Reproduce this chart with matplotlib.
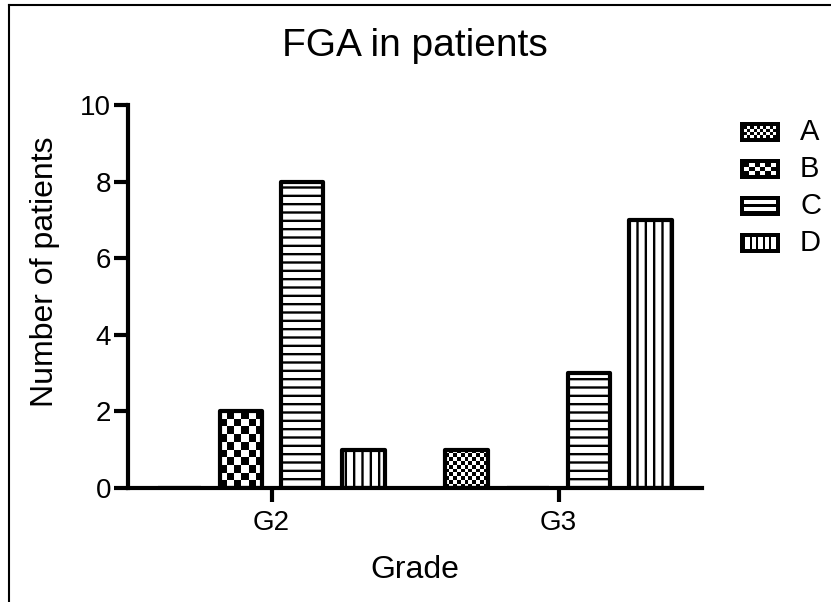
import numpy as np
import matplotlib
matplotlib.use("Agg")
import matplotlib.pyplot as plt
from matplotlib.patches import Rectangle
from matplotlib.lines import Line2D

categories = ["G2", "G3"]
series = ["A", "B", "C", "D"]
values_A = [0, 1]
values_B = [2, 0]
values_C = [8, 3]
values_D = [1, 7]
yticks = [0, 2, 4, 6, 8, 10]

plt.rcParams['font.family'] = ['Liberation Sans', 'DejaVu Sans']
plt.rcParams['hatch.linewidth'] = 1.7

W, H = 831, 602
fig = plt.figure(figsize=(W / 100, H / 100), dpi=100)
ax = fig.add_axes([128 / W, 1 - 488 / H, (702 - 128) / W, (488 - 105) / H])

ax.set_xlim(-0.5, 1.5)
ax.set_ylim(0, 10)

x = np.arange(len(categories))
width = 0.147
step = 0.2135
all_vals = [values_A, values_B, values_C, values_D]
styles = ["checkfine", "checkcoarse", "--", "||"]

bars_by_series = []
for i, (vals, st) in enumerate(zip(all_vals, styles)):
    is_check = st.startswith("check")
    hatch = None if is_check else st
    bars = ax.bar(x + (i - 1.5) * step, vals, width,
                  facecolor="none" if is_check else "white",
                  edgecolor="black", linewidth=3, hatch=hatch,
                  joinstyle="round", zorder=2)
    bars_by_series.append((bars, st, vals))

fig.canvas.draw()

def checker(nx, ny):
    a = (np.add.outer(np.arange(ny), np.arange(nx)) % 2).astype(float)
    return a

for bars, st, vals in bars_by_series:
    if not st.startswith("check"):
        continue
    cell = 4.0 if st == "checkfine" else 7.5
    for b, v in zip(bars, vals):
        if v <= 0:
            continue
        bx, by = b.get_x(), b.get_y()
        bw, bh = b.get_width(), b.get_height()
        p0 = ax.transData.transform((bx, by))
        p1 = ax.transData.transform((bx + bw, by + bh))
        nx = max(1, int(round((p1[0] - p0[0]) / cell)))
        ny = max(1, int(round((p1[1] - p0[1]) / cell)))
        ax.imshow(checker(nx, ny), cmap="gray", vmin=0, vmax=1,
                  extent=(bx, bx + bw, by, by + bh), origin="lower",
                  interpolation="nearest", aspect="auto", zorder=1.5)

ax.set_xlim(-0.5, 1.5)
ax.set_ylim(0, 10)
ax.set_aspect("auto")

for s in ["top", "right"]:
    ax.spines[s].set_visible(False)
for s in ["left", "bottom"]:
    ax.spines[s].set_linewidth(3)
    ax.spines[s].set_zorder(3)

ax.set_xticks(x)
ax.set_xticklabels(categories)
ax.set_yticks(yticks)
ax.set_yticklabels([str(t) for t in yticks])
ax.tick_params(axis="both", width=3, length=10, labelsize=20, direction="out", pad=2)
ax.tick_params(axis="x", pad=6)

fig.text(415 / W, 1 - 46 / H, "FGA in patients", ha="center", va="center", fontsize=28)
fig.text(415 / W, 1 - 570 / H, "Grade", ha="center", va="center", fontsize=23)
fig.text(45 / W, 1 - 272 / H, "Number of patients", ha="center", va="center",
         rotation=90, fontsize=23)

# overlay in pixel coordinates for frame and legend
ov = fig.add_axes([0, 0, 1, 1], zorder=5)
ov.set_xlim(0, W)
ov.set_ylim(H, 0)
ov.axis("off")
ov.patch.set_alpha(0)
ov.add_line(Line2D([9, 9], [5, H], color="black", lw=1.5))
ov.add_line(Line2D([9, W], [5, 5], color="black", lw=1.5))

leg_y = [132, 169, 206, 243]
lx0, lw_, lh = 740, 40, 20
for i, (name, st) in enumerate(zip(series, styles)):
    cy = leg_y[i]
    y0 = cy - lh / 2
    ov.add_patch(Rectangle((lx0, y0), lw_, lh, facecolor="black", edgecolor="none"))
    ix0, iy0, iw, ih = lx0 + 4, y0 + 4, lw_ - 8, lh - 8
    if st == "checkfine":
        ov.imshow(checker(int(iw / 3), int(ih / 3)), cmap="gray", vmin=0, vmax=1,
                  extent=(ix0, ix0 + iw, iy0 + ih, iy0), interpolation="nearest",
                  aspect="auto", zorder=3)
    elif st == "checkcoarse":
        ov.imshow(checker(6, 3), cmap="gray", vmin=0, vmax=1,
                  extent=(ix0, ix0 + iw, iy0 + ih, iy0), interpolation="nearest",
                  aspect="auto", zorder=3)
    elif st == "--":
        for k in range(2):
            ov.add_patch(Rectangle((ix0, iy0 + k * 7), iw, 4, facecolor="white",
                                   edgecolor="none", zorder=3))
    else:
        for k in range(5):
            ov.add_patch(Rectangle((ix0 + 1 + k * 6.5, iy0), 4.5, ih, facecolor="white",
                                   edgecolor="none", zorder=3))
    ov.text(800, cy, name, ha="left", va="center", fontsize=21)
ov.set_xlim(0, W)
ov.set_ylim(H, 0)

fig.savefig("out.png", dpi=100)
